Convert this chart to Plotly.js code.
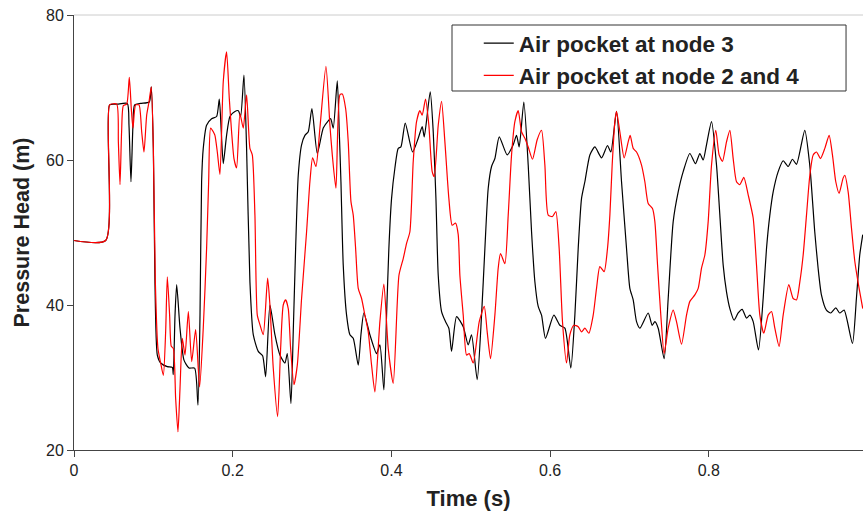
<!DOCTYPE html>
<html>
<head>
<meta charset="utf-8">
<script src="https://cdn.plot.ly/plotly-3.0.1.min.js"></script>
<style>html,body{margin:0;padding:0;background:#fff;}#chart{width:863px;height:517px;}</style>
</head>
<body>
<div id="chart"></div>
<script>
// Air pocket at node 3 (black)
const tNode3 = [0,0.0399,0.0449,0.0546,0.0672,0.0693,0.0718,0.0743,0.0764,0.084,0.0949,0.0974,0.1,0.102,0.105,0.1092,0.1176,0.1239,0.1251,0.1273,0.1294,0.1336,0.1386,0.1449,0.152,0.1562,0.1588,0.1608,0.1629,0.1671,0.1734,0.1797,0.1831,0.1856,0.1881,0.1923,0.1965,0.2028,0.2071,0.21,0.2142,0.2175,0.2217,0.2259,0.2322,0.2377,0.2415,0.2469,0.2532,0.2595,0.2658,0.2688,0.2734,0.2763,0.2793,0.2826,0.2868,0.291,0.2952,0.2998,0.3066,0.3141,0.3204,0.3234,0.3267,0.3318,0.3343,0.3364,0.3393,0.3435,0.3477,0.3519,0.3582,0.3616,0.3653,0.3729,0.3813,0.3855,0.3905,0.3939,0.3968,0.4002,0.4044,0.4086,0.412,0.4174,0.4267,0.4338,0.4388,0.4414,0.4489,0.4527,0.4561,0.459,0.4632,0.4682,0.4724,0.4758,0.4821,0.4905,0.4968,0.501,0.5081,0.5136,0.5178,0.522,0.5262,0.5304,0.5359,0.5459,0.5535,0.5577,0.561,0.5669,0.5724,0.5766,0.5808,0.585,0.5892,0.5942,0.6047,0.6123,0.6186,0.6261,0.6312,0.6354,0.6396,0.6438,0.6501,0.6564,0.6648,0.6723,0.6765,0.6837,0.69,0.6963,0.7005,0.7047,0.7089,0.7131,0.7236,0.7286,0.732,0.7362,0.7437,0.7488,0.7551,0.7614,0.7677,0.7761,0.7832,0.7887,0.7929,0.7971,0.8034,0.8097,0.8139,0.8181,0.8223,0.8265,0.8319,0.837,0.842,0.8475,0.8517,0.8559,0.8626,0.8685,0.8727,0.8769,0.8811,0.8874,0.8937,0.9,0.9054,0.9105,0.9209,0.9272,0.9335,0.9377,0.9419,0.9482,0.9537,0.96,0.965,0.9705,0.981,0.986,0.9902,0.994];
const hNode3 = [48.9,48.9,67.6,67.7,67.8,64.8,57.0,64.8,67.6,67.8,68.0,70.1,61.6,43.2,33.1,32.0,31.5,31.4,30.4,38.6,42.8,36.8,32.4,31.3,31.3,26.2,38.6,57.0,61.6,64.8,65.7,66.0,68.4,63.9,59.5,63.4,66.0,66.7,66.8,66.0,71.7,61.6,43.2,35.9,33.6,33.0,30.1,40.0,35.9,33.1,32.0,33.3,26.4,36.3,47.8,57.9,62.1,63.4,63.9,67.1,60.9,64.4,65.4,65.7,64.4,70.9,63.9,57.0,45.5,38.6,35.9,35.4,31.7,35.9,38.9,35.9,33.3,34.5,28.3,38.6,47.8,54.7,58.9,61.6,61.8,65.1,61.1,63.0,64.6,63.2,69.4,63.9,54.7,44.1,39.1,37.7,36.8,33.6,38.4,37.0,34.5,35.9,29.7,38.6,47.8,56.1,59.1,60.2,63.2,60.7,62.1,63.4,61.8,68.0,59.3,50.1,43.2,39.8,38.6,35.4,38.6,37.2,36.8,31.3,38.6,47.8,54.7,57.0,60.7,61.8,60.3,62.0,61.1,66.7,57.0,47.8,42.3,40.7,37.7,36.8,38.9,37.2,37.7,36.8,32.6,40.9,51.5,55.6,58.4,60.9,59.5,60.9,60.0,62.1,65.3,59.3,52.4,45.5,41.8,39.5,37.9,38.9,39.4,38.2,38.6,37.7,33.8,40.9,47.8,52.4,55.6,58.4,59.9,59.1,60.1,59.4,64.1,59.3,50.1,45.1,41.4,39.3,38.9,39.6,38.9,39.3,34.7,40.9,46.9,49.7];

// Air pocket at node 2 and 4 (red)
const tNode24 = [0,0.0399,0.0449,0.0538,0.0559,0.058,0.06,0.0622,0.0664,0.0697,0.0722,0.0743,0.0777,0.0819,0.0853,0.0882,0.0916,0.0945,0.0974,0.1,0.1025,0.1058,0.1092,0.1126,0.1155,0.1176,0.1205,0.1226,0.1252,0.1281,0.131,0.1336,0.1365,0.1399,0.1441,0.1483,0.1533,0.1583,0.1629,0.1671,0.1697,0.1722,0.1755,0.1776,0.1806,0.1839,0.1881,0.1923,0.1957,0.1986,0.2016,0.2049,0.2091,0.2133,0.2175,0.2217,0.2247,0.228,0.231,0.2343,0.2385,0.244,0.2469,0.2511,0.2566,0.2604,0.2637,0.2667,0.27,0.273,0.2772,0.2814,0.2868,0.2931,0.2973,0.3007,0.3049,0.3099,0.3175,0.3225,0.3255,0.3301,0.3351,0.3381,0.3423,0.3456,0.349,0.3519,0.3549,0.3582,0.3624,0.3666,0.3708,0.375,0.3792,0.3855,0.3905,0.396,0.4023,0.4095,0.4149,0.4191,0.4233,0.4275,0.4317,0.4359,0.4388,0.443,0.4472,0.4514,0.454,0.459,0.4632,0.4674,0.4724,0.4766,0.4808,0.4842,0.4863,0.4905,0.4947,0.4981,0.5031,0.5107,0.517,0.5207,0.5249,0.5304,0.5346,0.5375,0.543,0.5472,0.5514,0.5556,0.5598,0.564,0.5682,0.5724,0.5778,0.5837,0.5892,0.5934,0.5976,0.603,0.6072,0.6114,0.6156,0.6207,0.6249,0.6299,0.6354,0.6396,0.6438,0.6488,0.6543,0.6585,0.6627,0.6681,0.6723,0.6753,0.6782,0.6816,0.6837,0.6879,0.6933,0.6984,0.7009,0.7047,0.7089,0.7152,0.7194,0.7236,0.729,0.732,0.7354,0.7395,0.7437,0.7488,0.7551,0.7593,0.7656,0.7719,0.7761,0.7824,0.7866,0.7908,0.795,0.7992,0.8034,0.8088,0.813,0.8172,0.8223,0.8265,0.8307,0.8349,0.8391,0.8441,0.8496,0.8559,0.8601,0.8643,0.8693,0.8748,0.879,0.8832,0.8886,0.8937,0.9008,0.9063,0.9105,0.9147,0.9189,0.9231,0.9273,0.9315,0.9357,0.9407,0.9462,0.9516,0.9558,0.96,0.9642,0.9692,0.9714,0.9756,0.9798,0.984,0.9894,0.994];
const hNode24 = [48.9,48.9,67.6,67.7,62.5,56.6,63.9,67.5,67.7,71.4,67.1,64.4,67.6,67.6,63.9,61.1,66.2,68.0,70.1,61.6,43.2,34.0,32.0,30.3,36.3,43.9,38.6,34.3,34.0,27.1,22.5,28.5,35.4,33.1,39.1,32.2,36.6,28.7,36.8,47.8,57.0,64.4,63.9,63.4,61.1,58.0,70.8,74.9,68.5,63.9,60.2,58.9,66.4,64.4,69.0,61.6,60.7,52.4,38.6,37.3,35.9,43.7,40.0,31.3,24.6,34.0,40.0,40.7,39.5,34.0,29.0,31.7,40.9,50.1,57.0,60.3,59.1,64.4,72.9,64.8,60.7,56.1,69.0,69.1,67.1,62.5,54.3,52.4,47.8,42.3,40.9,38.6,36.3,31.7,28.0,37.7,42.9,34.0,29.2,44.1,46.4,48.5,50.1,59.8,65.3,66.8,66.2,68.4,64.8,58.4,57.7,64.8,68.1,62.5,54.7,51.0,51.3,49.7,44.1,38.6,33.1,33.3,32.0,37.7,39.8,36.3,32.6,38.6,45.1,47.1,45.7,52.4,60.7,65.3,66.8,63.9,63.0,61.8,60.1,62.8,64.1,59.3,52.4,52.2,52.9,47.8,37.7,32.0,35.9,37.2,37.0,36.3,36.8,36.1,38.6,42.3,45.3,44.6,47.8,52.4,59.3,65.3,66.7,63.9,60.3,62.5,63.4,61.6,61.1,59.3,57.0,54.0,53.3,51.5,45.5,38.6,33.3,36.8,39.3,37.7,34.6,38.6,40.5,41.4,42.3,45.1,46.9,51.5,59.3,64.1,60.7,59.8,62.5,64.1,60.2,57.0,56.6,57.6,55.2,52.0,45.5,38.6,36.1,38.6,39.1,36.8,34.3,38.6,42.8,40.9,40.7,43.2,46.9,52.4,57.9,60.7,61.1,60.2,61.6,63.4,60.7,57.0,55.4,57.5,57.9,55.6,50.6,46.0,42.3,39.5];

const seriesNames = ["Air pocket at node 3", "Air pocket at node 2 and 4"];
const xTickVals = [0, 0.2, 0.4, 0.6, 0.8];
const xTickText = ["0", "0.2", "0.4", "0.6", "0.8"];
const yTickVals = [20, 40, 60, 80];

const FONT = '"Liberation Sans", Arial, sans-serif';

const traces = [
  {x: tNode3, y: hNode3, name: seriesNames[0], mode: 'lines', legendgroup: 'a',
   line: {color: '#000000', width: 1.2, shape: 'spline', smoothing: 0.6}},
  {x: tNode24, y: hNode24, name: seriesNames[1], mode: 'lines', legendgroup: 'b',
   line: {color: '#ff0000', width: 1.2, shape: 'spline', smoothing: 0.6}}
];

const layout = {
  width: 863, height: 517,
  paper_bgcolor: '#ffffff', plot_bgcolor: '#ffffff',
  margin: {l: 74, r: 0, t: 15, b: 67},
  font: {family: FONT, color: '#222222', size: 16},
  showlegend: true,
  legend: {
    x: 0.513, y: 0.984, xanchor: 'left', yanchor: 'top',
    bgcolor: 'rgba(0,0,0,0)', borderwidth: 0,
    font: {family: FONT, size: 22.5, color: '#222222', weight: 'bold'},
    itemwidth: 30, tracegroupgap: 0
  },
  xaxis: {
    range: [0, 0.9943], tickvals: xTickVals, ticktext: xTickText,
    showgrid: false, zeroline: false, showline: true, linecolor: '#444444', linewidth: 1,
    ticks: 'outside', ticklen: 6, tickcolor: '#444444',
    tickfont: {family: FONT, size: 16, color: '#222222'},
    title: {text: 'Time (s)', font: {family: FONT, size: 22, color: '#222222', weight: 'bold'}, standoff: 12}
  },
  yaxis: {
    range: [20, 80], tickvals: yTickVals,
    showgrid: false, zeroline: false, showline: true, linecolor: '#444444', linewidth: 1,
    ticks: 'outside', ticklen: 6, tickcolor: '#444444',
    tickfont: {family: FONT, size: 16, color: '#222222'},
    title: {text: 'Pressure Head (m)', font: {family: FONT, size: 21.5, color: '#222222', weight: 'bold'}, standoff: 10}
  },
  shapes: [
    {type: 'line', xref: 'paper', yref: 'paper', x0: 0, x1: 1, y0: 1, y1: 1,
     line: {color: '#cccccc', width: 1}},
    {type: 'rect', xref: 'paper', yref: 'paper', x0: 0.4791, x1: 0.9785, y0: 0.8253, y1: 0.977,
     line: {color: '#333333', width: 1}, fillcolor: '#ffffff', layer: 'below'}
  ]
};

Plotly.newPlot('chart', traces, layout, {displayModeBar: false, staticPlot: true});
</script>
</body>
</html>
